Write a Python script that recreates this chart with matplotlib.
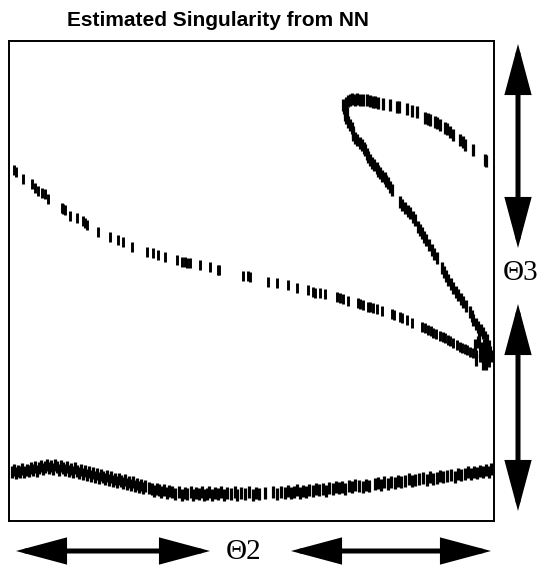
import matplotlib
matplotlib.use("Agg")
import matplotlib.pyplot as plt
from matplotlib.patches import FancyArrowPatch, ArrowStyle

# singularity points estimated by the network, arbitrary Θ2 / Θ3 units
# lower-left branch running down to the right edge
theta2_a = [5, 7, 14, 23, 26, 29, 33, 36, 39, 53, 54, 56, 61, 68, 74, 76, 78, 89, 101, 109,
            114, 123, 138, 144, 149, 156, 168, 173, 176, 178, 181, 191, 201, 209, 210, 234, 239,
            241, 259, 268, 279, 288, 299, 304, 306, 311, 316, 328, 331, 334, 339, 349, 351, 354,
            359, 361, 364, 368, 373, 383, 385, 391, 393, 398, 403, 413, 416, 419, 422, 424, 427,
            431, 434, 436, 439, 441, 444, 448, 451, 453, 456, 458, 461, 464, 467, 471, 474, 477, 480]
theta3_a = [352, 350, 343, 338, 334, 331, 329, 328, 323, 314, 313, 312, 306, 304, 301, 299, 297, 290, 285, 282,
            280, 275, 270, 269, 267, 265, 262, 260, 260, 259, 259, 257, 255, 252, 252, 246, 246,
            245, 240, 239, 237, 234, 232, 230, 229, 229, 228, 225, 224, 223, 221, 219, 218, 217,
            215, 215, 214, 213, 211, 208, 207, 205, 204, 202, 199, 195, 194, 192, 191, 189, 188,
            186, 185, 184, 182, 181, 179, 177, 175, 174, 173, 172, 170, 169, 167, 165, 163, 161, 160]

# loop in the upper right: top branch then lower branch, plus the knot at the edge
theta2_b = [334, 335, 336, 338, 337, 339, 341, 343, 346, 348, 351, 354, 358, 361, 364, 366, 369, 374,
            381, 388, 390, 398, 403, 408, 416, 419, 421, 426, 428, 431, 436, 438, 441, 444, 451, 454,
            456, 464, 476, 477,
            336, 337, 339, 341, 343, 344, 344, 346, 348, 351, 353, 355, 356, 358, 359, 361, 363, 365,
            368, 369, 371, 373, 376, 377, 379, 381, 383, 391, 393, 396, 399, 401, 404, 406, 409, 411,
            413, 415, 417, 420, 423, 425, 428, 433, 435, 437, 439, 442, 444, 447, 449, 452, 454, 457,
            461, 463, 464, 467, 469, 472, 474, 476, 478,
            466, 469, 472, 475, 478, 471, 476, 481, 467, 474, 479, 470, 473, 480, 477, 483]
theta3_b = [417, 414, 411, 409, 419, 421, 422, 423, 422, 423, 422, 422, 422, 421, 420, 420, 419, 418,
            417, 415, 415, 413, 411, 410, 404, 403, 402, 400, 399, 397, 394, 393, 390, 387, 382, 380,
            377, 372, 362, 361,
            407, 404, 400, 397, 394, 390, 387, 384, 382, 379, 377, 374, 372, 368, 365, 362, 359, 357,
            354, 351, 349, 346, 344, 341, 339, 335, 332, 320, 317, 314, 311, 309, 305, 302, 295, 292,
            289, 285, 282, 277, 272, 268, 264, 254, 250, 246, 242, 238, 234, 230, 227, 223, 220, 216,
            210, 206, 202, 198, 195, 192, 189, 185, 182,
            177, 180, 174, 177, 172, 170, 167, 170, 162, 158, 164, 184, 166, 176, 158, 166]

# band near the bottom across the whole range
theta2_c = [3, 5, 7, 9, 11, 13, 15, 18, 20, 22, 24, 26, 28, 30, 32, 34, 36, 38, 40, 42, 44, 46, 48, 50,
            52, 54, 56, 58, 60, 62, 64, 66, 68, 70, 72, 74, 76, 78, 80, 82, 84, 86, 88, 90, 92, 94,
            96, 98, 100, 102, 104, 106, 108, 110, 112, 114, 116, 118, 120, 122, 124, 126, 128, 130,
            132, 134, 136, 140, 143, 145, 148, 150, 152, 155, 158, 160, 163, 166, 170, 173, 176, 178,
            182, 184, 187, 190, 193, 195, 198, 200, 203, 206, 209, 212, 215, 218, 222, 226, 228, 232,
            236, 240, 244, 247, 250, 256, 264, 268, 272, 276, 279, 282, 285, 288, 291, 294, 297, 300,
            304, 307, 310, 314, 317, 320, 324, 327, 330, 333, 336, 340, 343, 346, 350, 354, 357, 360,
            366, 369, 372, 375, 379, 382, 386, 389, 392, 396, 400, 403, 406, 410, 414, 418, 421, 424,
            428, 431, 434, 438, 442, 446, 449, 452, 456, 459, 462, 465, 468, 471, 474, 477, 480, 482]
theta3_c = [50, 52, 49, 51, 50, 53, 50, 52, 51, 54, 52, 55, 51, 54, 56, 53, 55, 57, 54, 56, 53, 57, 55, 52,
            56, 54, 52, 55, 51, 53, 50, 54, 51, 49, 52, 48, 51, 47, 50, 46, 49, 45, 48, 44, 47, 45,
            43, 46, 42, 45, 41, 43, 40, 43, 41, 39, 42, 38, 40, 37, 40, 36, 38, 35,
            37, 34, 36, 34, 33, 31, 33, 32, 30, 32, 29, 31, 30, 28, 30, 27, 29, 28,
            30, 27, 29, 28, 30, 27, 28, 30, 27, 29, 28, 30, 27, 29, 28, 30, 27, 29,
            28, 30, 27, 29, 28, 29, 30, 28, 30, 29, 31, 29, 30, 32, 29, 31, 30, 32,
            31, 33, 32, 33, 31, 34, 33, 35, 34, 35, 33, 36, 35, 37, 36, 35, 37, 36,
            38, 39, 37, 40, 38, 40, 39, 41, 40, 41, 43, 41, 42, 43, 44, 42, 45, 43,
            44, 46, 45, 46, 47, 45, 48, 47, 48, 50, 48, 50, 49, 51, 50, 52, 50, 53]

W, H = 538, 567
fig = plt.figure(figsize=(W / 100, H / 100), dpi=100)
ax = fig.add_axes([9 / W, (H - 521) / H, 485 / W, 480 / H])

ax.plot(theta2_a, theta3_a, ls="none", marker="|", ms=7, mew=2.1, color="black")
ax.plot(theta2_b, theta3_b, ls="none", marker="|", ms=8, mew=2.3, color="black")
ax.plot(theta2_c, theta3_c, ls="none", marker="|", ms=9, mew=2.3, color="black")

ax.set_xlim(0, 485)
ax.set_ylim(1, 481)
ax.set_xticks([])
ax.set_yticks([])
for sp in ax.spines.values():
    sp.set_linewidth(1.4)

fig.text(218 / W, 1 - 20 / H, "Estimated Singularity from NN", ha="center", va="center",
         fontsize=15, fontweight="bold", family="Liberation Sans")

# double arrows drawn in pixel positions (from top-left), converted to inches
def double_arrow(x0, y0, x1, y1):
    style = ArrowStyle("<|-|>", head_length=28, head_width=7.5)
    p = FancyArrowPatch(((x0) / 100, (H - y0) / 100), ((x1) / 100, (H - y1) / 100),
                        arrowstyle=style, mutation_scale=1, lw=3.6, color="black",
                        shrinkA=0, shrinkB=0, transform=fig.dpi_scale_trans)
    p.set_joinstyle("miter")
    fig.add_artist(p)

double_arrow(518, 44, 518, 248)
double_arrow(518, 304, 518, 511)
double_arrow(16, 551, 210, 551)
double_arrow(291, 551, 491, 551)

fig.text(521 / W, 1 - 273 / H, "Θ3", ha="center", va="center", fontsize=21, family="Liberation Serif")
fig.text(244 / W, 1 - 552 / H, "Θ2", ha="center", va="center", fontsize=21, family="Liberation Serif")

fig.savefig("out.png", dpi=100)
